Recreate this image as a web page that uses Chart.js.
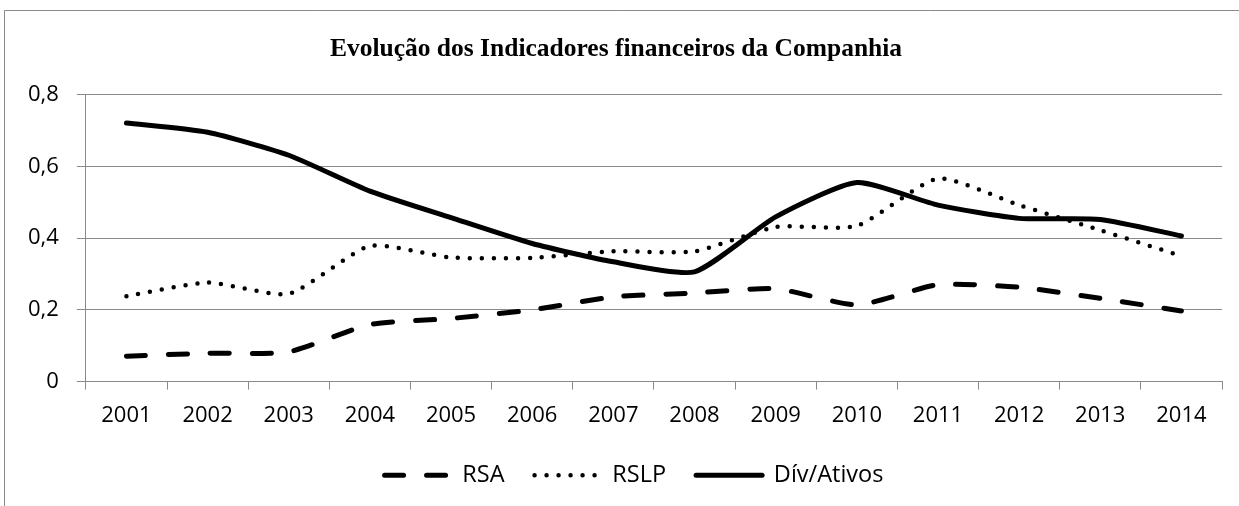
<!DOCTYPE html>
<html>
<head>
<meta charset="utf-8">
<script src="https://cdn.jsdelivr.net/npm/chart.js@4.4.1/dist/chart.umd.min.js"></script>
<style>
  html, body { margin: 0; padding: 0; background: #fff; }
  canvas { display: block; }
</style>
</head>
<body>
<canvas id="c" width="1239" height="506"></canvas>
<script>
const titleText = 'Evolução dos Indicadores financeiros da Companhia';
const years = ['2001','2002','2003','2004','2005','2006','2007','2008','2009','2010','2011','2012','2013','2014'];
const rsa = [0.071, 0.079, 0.083, 0.159, 0.176, 0.200, 0.236, 0.247, 0.259, 0.214, 0.270, 0.263, 0.232, 0.197];
const rslp = [0.238, 0.276, 0.245, 0.378, 0.346, 0.345, 0.363, 0.363, 0.431, 0.434, 0.566, 0.492, 0.422, 0.350];
const divAtivos = [0.721, 0.695, 0.631, 0.531, 0.457, 0.385, 0.334, 0.306, 0.459, 0.555, 0.492, 0.455, 0.452, 0.406];
const seriesNames = ['RSA', 'RSLP', 'Dív/Ativos'];
const yTicks = [0, 0.2, 0.4, 0.6, 0.8];

const gridColor = '#8a8a8a';
const tickFont = { family: '"Open Sans", sans-serif', size: 22 };
const legendFont = { family: '"Open Sans", sans-serif', size: 23.5 };

const frame = {
  id: 'frame',
  beforeDraw(chart) {
    const ctx = chart.ctx;
    ctx.save();
    ctx.fillStyle = '#fff';
    ctx.fillRect(0, 0, chart.width, chart.height);
    ctx.strokeStyle = gridColor;
    ctx.lineWidth = 1;
    ctx.beginPath();
    ctx.moveTo(4.5, chart.height);
    ctx.lineTo(4.5, 10.5);
    ctx.lineTo(chart.width, 10.5);
    ctx.stroke();
    ctx.restore();
  }
};

// nudge the legend box after layout
const legendShift = {
  id: 'legendShift',
  afterLayout(chart) {
    const lg = chart.legend;
    if (lg) { lg.top -= 8.5; lg.bottom -= 8.5; lg.left += 18; lg.right += 18; }
  }
};

new Chart(document.getElementById('c'), {
  type: 'line',
  data: {
    labels: years,
    datasets: [
      { label: seriesNames[0], data: rsa, borderColor: '#000', backgroundColor: '#000', borderWidth: 5, borderDash: [19, 23], borderCapStyle: 'round', pointRadius: 0, tension: 0.2 },
      { label: seriesNames[1], data: rslp, borderColor: '#000', backgroundColor: '#000', borderWidth: 4.5, borderDash: [0, 12], borderCapStyle: 'round', pointRadius: 0, tension: 0.2 },
      { label: seriesNames[2], data: divAtivos, borderColor: '#000', backgroundColor: '#000', borderWidth: 5, borderDash: [], borderCapStyle: 'round', pointRadius: 0, tension: 0.2 }
    ]
  },
  options: {
    responsive: false,
    animation: false,
    layout: { padding: { left: 10, right: 17, top: 10, bottom: 0.5 } },
    plugins: {
      title: {
        display: true,
        text: titleText,
        color: '#000',
        font: { family: '"Liberation Serif", "Times New Roman", serif', size: 25.5, weight: 'bold' },
        padding: { top: 24, bottom: 30 }
      },
      legend: {
        position: 'bottom',
        labels: {
          color: '#000',
          font: legendFont,
          usePointStyle: true,
          pointStyle: 'line',
          pointStyleWidth: 66,
          padding: 30,
          generateLabels: (chart) => chart.data.datasets.map((ds, i) => ({
            text: ds.label,
            fillStyle: ds.borderColor,
            strokeStyle: ds.borderColor,
            lineWidth: ds.borderWidth,
            lineDash: ds.borderDash,
            lineCap: ds.borderCapStyle,
            pointStyle: 'line',
            hidden: false,
            fontColor: '#000',
            datasetIndex: i
          }))
        }
      },
      tooltip: { enabled: false }
    },
    scales: {
      x: {
        offset: true,
        grid: { offset: true, drawOnChartArea: false, drawTicks: true, tickLength: 8, color: gridColor },
        border: { color: gridColor, width: 1 },
        ticks: { color: '#000', font: tickFont, padding: 13, maxRotation: 0, autoSkip: false }
      },
      y: {
        min: 0, max: 0.8,
        afterBuildTicks: (axis) => { axis.ticks = yTicks.map(v => ({ value: v })); },
        grid: { color: gridColor, tickLength: 9, drawTicks: true },
        border: { color: gridColor, width: 1 },
        ticks: { color: '#000', font: tickFont, padding: 18, callback: (v) => String(v).replace('.', ',') }
      }
    }
  },
  plugins: [frame, legendShift]
});
</script>
</body>
</html>
